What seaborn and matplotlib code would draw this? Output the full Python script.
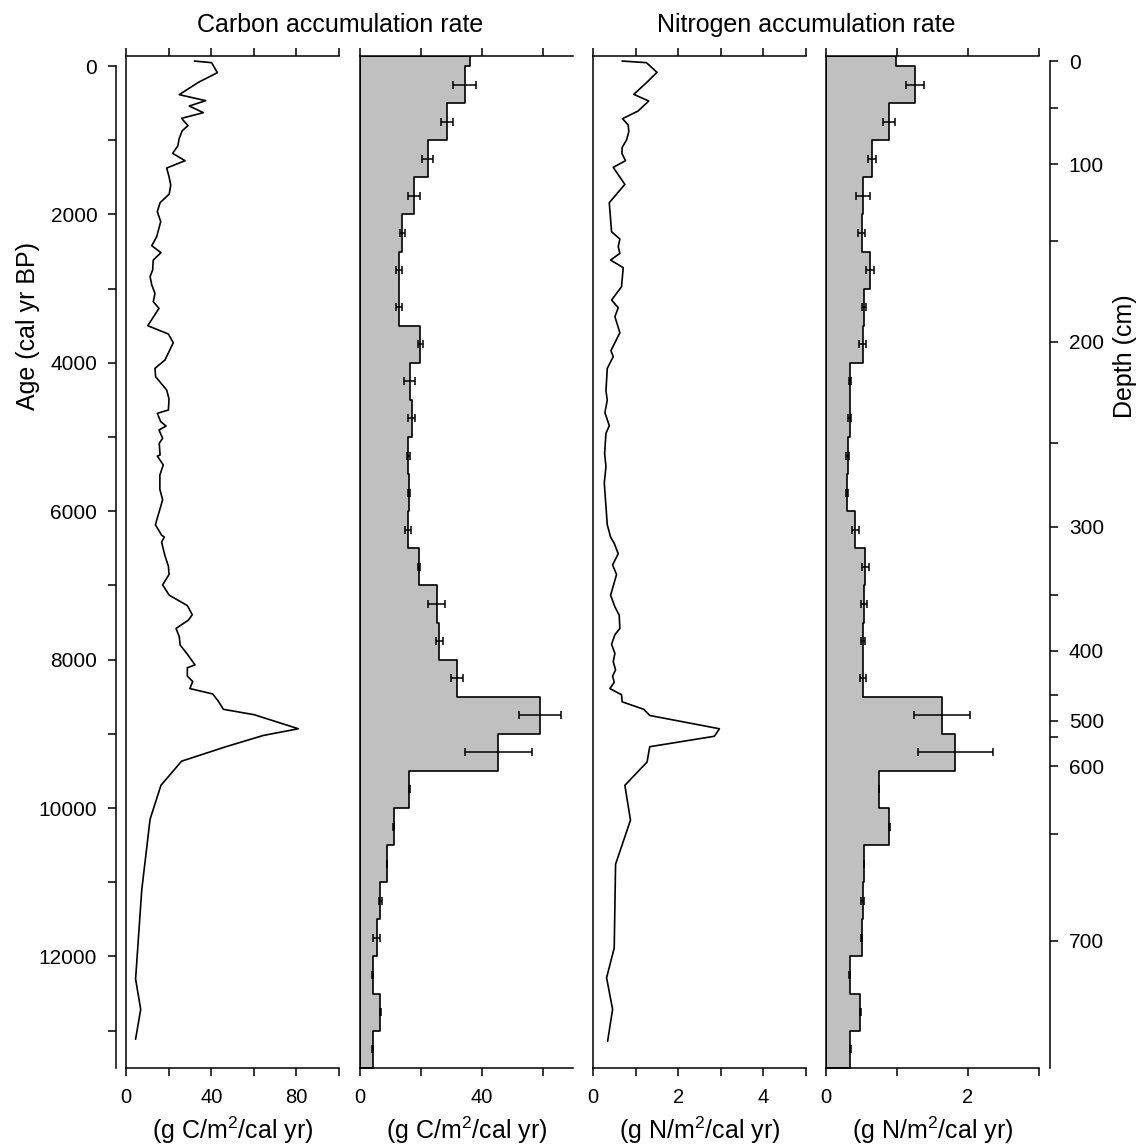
import matplotlib
matplotlib.use("Agg")
import matplotlib.pyplot as plt
import seaborn as sns

# continuous carbon accumulation record (age cal yr BP, g C/m2/cal yr)
c_age = [-67, -45, 90, 220, 386, 467, 539, 629, 705, 804, 872, 975, 1078, 1177,
         1276, 1375, 1491, 1604, 1725, 1842, 1963, 2098, 2300, 2421, 2516, 2615,
         2749, 2839, 2951, 3064, 3176, 3266, 3500, 3612, 3729, 3962, 4075, 4187,
         4367, 4488, 4636, 4681, 4793, 4852, 4906, 5018, 5085, 5243, 5256, 5377,
         5511, 5706, 5846, 6182, 6322, 6349, 6416, 6601, 6741, 6853, 6993, 7132,
         7272, 7395, 7468, 7580, 7691, 7803, 7915, 8071, 8110, 8222, 8295, 8390,
         8463, 8558, 8670, 8742, 8932, 9022, 9174, 9369, 9694, 10152, 11103,
         12305, 12713, 13116]
c_rate = [32.1, 40.2, 42.9, 34.0, 25.0, 37.4, 29.7, 36.3, 26.1, 29.1, 26.4, 25.0,
          24.3, 21.9, 27.7, 19.1, 20.2, 21.0, 20.3, 16.0, 14.7, 16.3, 14.4, 12.1,
          16.4, 12.8, 12.5, 11.3, 12.1, 13.6, 12.8, 15.5, 10.2, 19.9, 22.2, 18.3,
          13.6, 13.9, 19.1, 20.2, 19.9, 14.7, 16.3, 18.8, 15.5, 17.2, 15.6, 16.0,
          14.7, 17.5, 15.9, 15.9, 17.2, 13.8, 16.7, 18.0, 16.7, 18.3, 19.9, 20.2,
          17.2, 20.3, 28.8, 31.1, 29.3, 23.5, 25.0, 25.4, 28.5, 32.4, 28.8, 28.8,
          31.3, 30.0, 40.7, 43.3, 45.7, 60.1, 80.9, 64.5, 46.9, 26.1, 16.4, 11.3,
          7.4, 4.5, 6.9, 4.5]

# continuous nitrogen accumulation record (g N/m2/cal yr)
n_age = [-67, -45, 85, 225, 382, 472, 606, 710, 795, 885, 997, 1096, 1177, 1276,
         1366, 1595, 1842, 2233, 2332, 2435, 2525, 2615, 2718, 2974, 3154, 3257,
         3378, 3594, 3836, 3917, 4075, 4380, 4501, 4672, 4847, 4951, 5220, 5400,
         5623, 6182, 6350, 6433, 6573, 6724, 6853, 7132, 7289, 7401, 7580, 7664,
         7793, 7915, 8027, 8139, 8222, 8306, 8390, 8474, 8569, 8670, 8753, 8932,
         9033, 9174, 9381, 9694, 10164, 10757, 11886, 12288, 12713, 13144]
n_rate = [0.685, 1.254, 1.503, 1.254, 0.958, 1.308, 1.059, 0.693, 0.826, 0.841,
          0.787, 0.685, 0.678, 0.763, 0.475, 0.748, 0.382, 0.436, 0.631, 0.592,
          0.631, 0.413, 0.709, 0.670, 0.436, 0.592, 0.514, 0.631, 0.421, 0.475,
          0.335, 0.304, 0.335, 0.280, 0.382, 0.304, 0.273, 0.304, 0.265, 0.335,
          0.413, 0.498, 0.592, 0.460, 0.553, 0.413, 0.514, 0.615, 0.631, 0.514,
          0.436, 0.514, 0.475, 0.530, 0.460, 0.498, 0.397, 0.670, 0.685, 1.192,
          1.332, 2.967, 2.850, 1.332, 1.269, 0.748, 0.880, 0.530, 0.498, 0.319,
          0.460, 0.343]

# 500-yr binned accumulation rates (first bin = core top above 0 BP)
bin_edges = [-140, 0, 500, 1000, 1500, 2000, 2500, 3000, 3500, 4000, 4500, 5000,
             5500, 6000, 6500, 7000, 7500, 8000, 8500, 9000, 9500, 10000, 10500,
             11000, 11500, 12000, 12500, 13000, 13500]
c_bin = [36.2, 34.4, 28.5, 22.3, 17.8, 13.9, 12.9, 12.7, 19.8, 16.3, 17.0, 15.9,
         16.1, 15.9, 19.3, 25.2, 26.1, 31.8, 59.2, 45.4, 16.2, 11.1, 8.9, 6.7,
         5.5, 4.2, 6.7, 4.2]
c_bin_err = [3.8, 1.9, 1.8, 1.9, 0.9, 1.0, 1.0, 0.9, 1.9, 1.1, 0.6, 0.4, 1.0, 0.4,
             2.85, 1.26, 2.0, 6.85, 11.0, 0.1, 0.1, 0.1, 0.5, 1.2, 0.1, 0.1, 0.1]
n_bin = [0.99, 1.25, 0.887, 0.648, 0.521, 0.502, 0.62, 0.54, 0.516, 0.338, 0.333,
         0.305, 0.296, 0.413, 0.554, 0.535, 0.521, 0.521, 1.634, 1.822, 0.746,
         0.892, 0.535, 0.516, 0.502, 0.333, 0.484, 0.343]
n_bin_err = [0.127, 0.082, 0.056, 0.1, 0.05, 0.06, 0.03, 0.047, 0.02, 0.02, 0.02,
             0.02, 0.045, 0.05, 0.047, 0.03, 0.04, 0.397, 0.526, 0.005, 0.005,
             0.005, 0.02, 0.005, 0.005, 0.005, 0.005]

# age-depth model used for the depth axis
depth_cm = [0, 50, 100, 150, 200, 250, 300, 350, 400, 450, 500, 550, 600, 650, 700]
depth_age = [-67, 562, 1321, 2358, 3716, 5081, 6210, 7132, 7881, 8474, 8821,
             9045, 9437, 10348, 11791]

W, H = 1143, 1145
AGE_MIN, AGE_MAX = -139, 13504

sns.set_style("ticks")
plt.rcParams["font.family"] = ["Liberation Sans", "DejaVu Sans"]
plt.rcParams["mathtext.fontset"] = "custom"
plt.rcParams["mathtext.rm"] = "Liberation Sans"
plt.rcParams["mathtext.default"] = "regular"
for key in ["text.color", "axes.labelcolor", "xtick.color", "ytick.color", "axes.edgecolor"]:
    plt.rcParams[key] = "black"

fig = plt.figure(figsize=(W / 100, H / 100), dpi=100)
lefts = [126, 360, 593, 826]
axes = [fig.add_axes([l / W, 1 - 1068 / H, 213 / W, (1068 - 55.7) / H]) for l in lefts]
ax1, ax2, ax3, ax4 = axes

bin_mid = [(a + b) / 2 for a, b in zip(bin_edges[:-1], bin_edges[1:])]
err_mid = bin_mid[1:]

# Panel 1: carbon line
sns.lineplot(x=c_rate, y=c_age, sort=False, orient="y", estimator=None,
             color="black", lw=1.2, ax=ax1)
# Panel 2: binned carbon
sns.histplot(y=bin_mid, weights=c_bin, bins=bin_edges, element="step", fill=True,
             facecolor="#c0c0c0", edgecolor="black", linewidth=1.2, ax=ax2)
ax2.errorbar(c_bin[1:], err_mid, xerr=c_bin_err, fmt="none", ecolor="black",
             elinewidth=1.1, capsize=3, capthick=1.1)
# Panel 3: nitrogen line
sns.lineplot(x=n_rate, y=n_age, sort=False, orient="y", estimator=None,
             color="black", lw=1.2, ax=ax3)
# Panel 4: binned nitrogen
sns.histplot(y=bin_mid, weights=n_bin, bins=bin_edges, element="step", fill=True,
             facecolor="#c0c0c0", edgecolor="black", linewidth=1.2, ax=ax4)
ax4.errorbar(n_bin[1:], err_mid, xerr=n_bin_err, fmt="none", ecolor="black",
             elinewidth=1.1, capsize=3, capthick=1.1)

panel_ticks = [
    (100, [0, 20, 40, 60, 80, 100], [0, 40, 80]),
    (70, [0, 20, 40, 60], [0, 40]),
    (5, [0, 1, 2, 3, 4, 5], [0, 2, 4]),
    (3, [0, 1, 2, 3], [0, 2]),
]
xlabels = ["(g C/m$^2$/cal yr)", "(g C/m$^2$/cal yr)",
           "(g N/m$^2$/cal yr)", "(g N/m$^2$/cal yr)"]

# depth axis (twin of the last panel)
dax = ax4.twinx()

for ax, (xmax, ticks, labeled), xl in zip(axes, panel_ticks, xlabels):
    ax.set_xlim(0, xmax)
    ax.set_ylim(AGE_MAX, AGE_MIN)
    ax.set_xticks(ticks)
    ax.set_xticklabels([str(t) if t in labeled else "" for t in ticks])
    ax.tick_params(axis="x", top=True, bottom=True, labeltop=False, direction="out",
                   length=5.5, width=1.1, labelsize=14.5, pad=9)
    ax.tick_params(axis="y", left=False, right=False, labelleft=False, labelright=False)
    ax.spines["right"].set_visible(False)
    for s in ["left", "top", "bottom"]:
        ax.spines[s].set_linewidth(1.1)
    ax.set_ylabel("")
    ax.set_xlabel(xl, fontsize=18, va="center")
    ax.xaxis.set_label_coords(0.5, (1068 - 1130) / (1068 - 55.7))
    ax.patch.set_alpha(0)

# age axis, offset to the left of panel 1
sec = ax1.secondary_yaxis(-10 / 213)
sec.set_yticks(range(0, 13001, 2000))
sec.set_yticks(range(1000, 13001, 2000), minor=True)
sec.tick_params(which="both", direction="out", length=5.5, width=1.1, labelsize=15,
                pad=8)
sec.spines["left"].set_bounds(0, AGE_MAX)
sec.spines["left"].set_linewidth(1.1)

dax.set_ylim(AGE_MAX, AGE_MIN)
major_depth = [a for d, a in zip(depth_cm, depth_age) if d % 100 == 0]
minor_depth = [a for d, a in zip(depth_cm, depth_age) if d % 100 != 0]
dax.set_yticks(major_depth)
dax.set_yticklabels([str(d) for d in depth_cm if d % 100 == 0])
dax.set_yticks(minor_depth, minor=True)
dax.tick_params(axis="y", which="both", direction="out", length=5.5, width=1.1,
                labelsize=15, pad=8)
dax.spines["right"].set_position(("axes", (1050 - 826) / 213))
dax.spines["right"].set_bounds(depth_age[0], AGE_MAX)
dax.spines["right"].set_linewidth(1.1)
for s in ["left", "top", "bottom"]:
    dax.spines[s].set_visible(False)
ax4.tick_params(axis="y", left=False, labelleft=False)

fig.text(28 / W, 1 - 326 / H, "Age (cal yr BP)", rotation=90, ha="center",
         va="center", fontsize=18)
fig.text(1125 / W, 1 - 356 / H, "Depth (cm)", rotation=90, ha="center",
         va="center", fontsize=18)
fig.text(340 / W, 1 - 32 / H, "Carbon accumulation rate", ha="center",
         va="baseline", fontsize=18)
fig.text(806 / W, 1 - 32 / H, "Nitrogen accumulation rate", ha="center",
         va="baseline", fontsize=18)

fig.savefig("out.png", dpi=100)
